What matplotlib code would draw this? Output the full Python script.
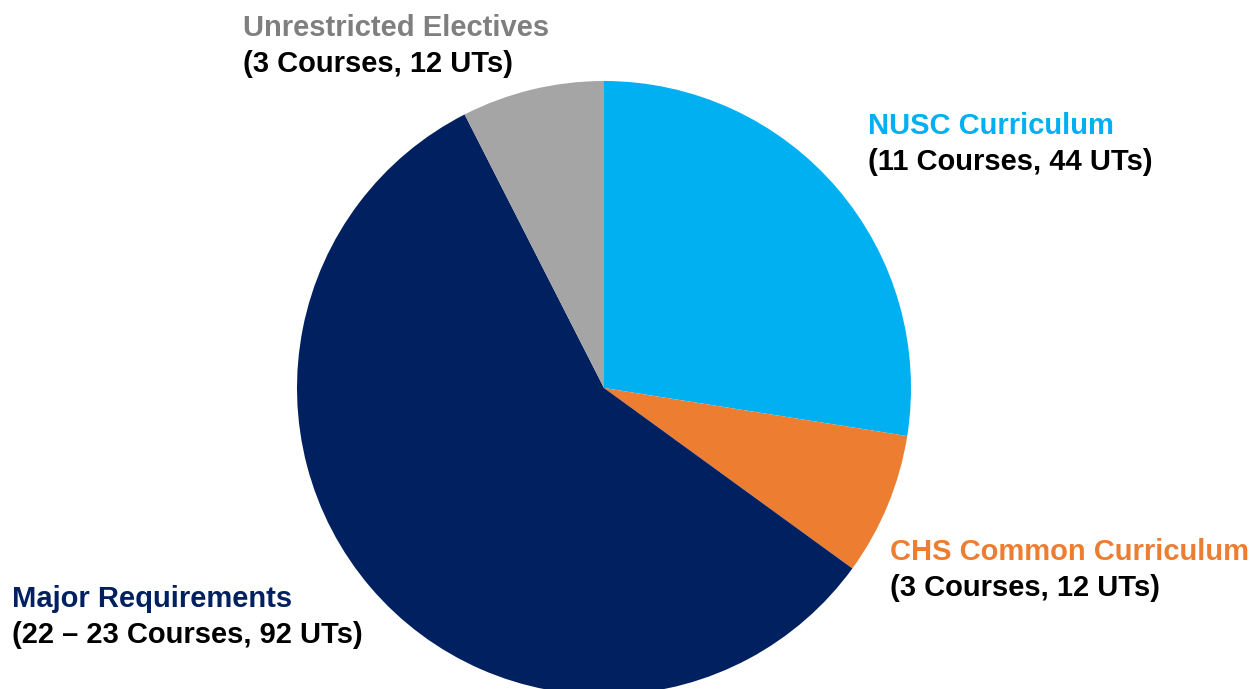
import matplotlib.pyplot as plt
import matplotlib

matplotlib.rc('font', family=['Liberation Sans', 'DejaVu Sans'], weight='bold')

labels = ['NUSC Curriculum', 'CHS Common Curriculum', 'Major Requirements', 'Unrestricted Electives']
details = ['(11 Courses, 44 UTs)', '(3 Courses, 12 UTs)', '(22 – 23 Courses, 92 UTs)', '(3 Courses, 12 UTs)']
units = [44, 12, 92, 12]
colors = ['#00B0F0', '#ED7D31', '#002060', '#A5A5A5']
label_colors = ['#00B0F0', '#ED7D31', '#002060', '#7F7F7F']

W, H = 1253, 689
cx, cy, r = 604, 388, 307  # pie centre / radius in pixels

fig = plt.figure(figsize=(W / 100, H / 100), dpi=100)
ax = fig.add_axes([0, 0, 1, 1])
ax.pie(units, colors=colors, startangle=90, counterclock=False, radius=1,
       wedgeprops=dict(linewidth=0))
ax.set_xlim(-cx / r, (W - cx) / r)
ax.set_ylim(-(H - cy) / r, cy / r)
ax.set_aspect('equal')
ax.axis('off')

# label anchors (left x, first baseline y) in pixels
anchors = [(868, 134), (890, 560), (12, 607), (243, 36)]
for (x, y), lab, det, c in zip(anchors, labels, details, label_colors):
    fig.text(x / W, 1 - y / H, lab, color=c, fontsize=21, va='baseline', ha='left')
    fig.text(x / W, 1 - (y + 36) / H, det, color='black', fontsize=21, va='baseline', ha='left')

fig.savefig('out.png', dpi=100)
